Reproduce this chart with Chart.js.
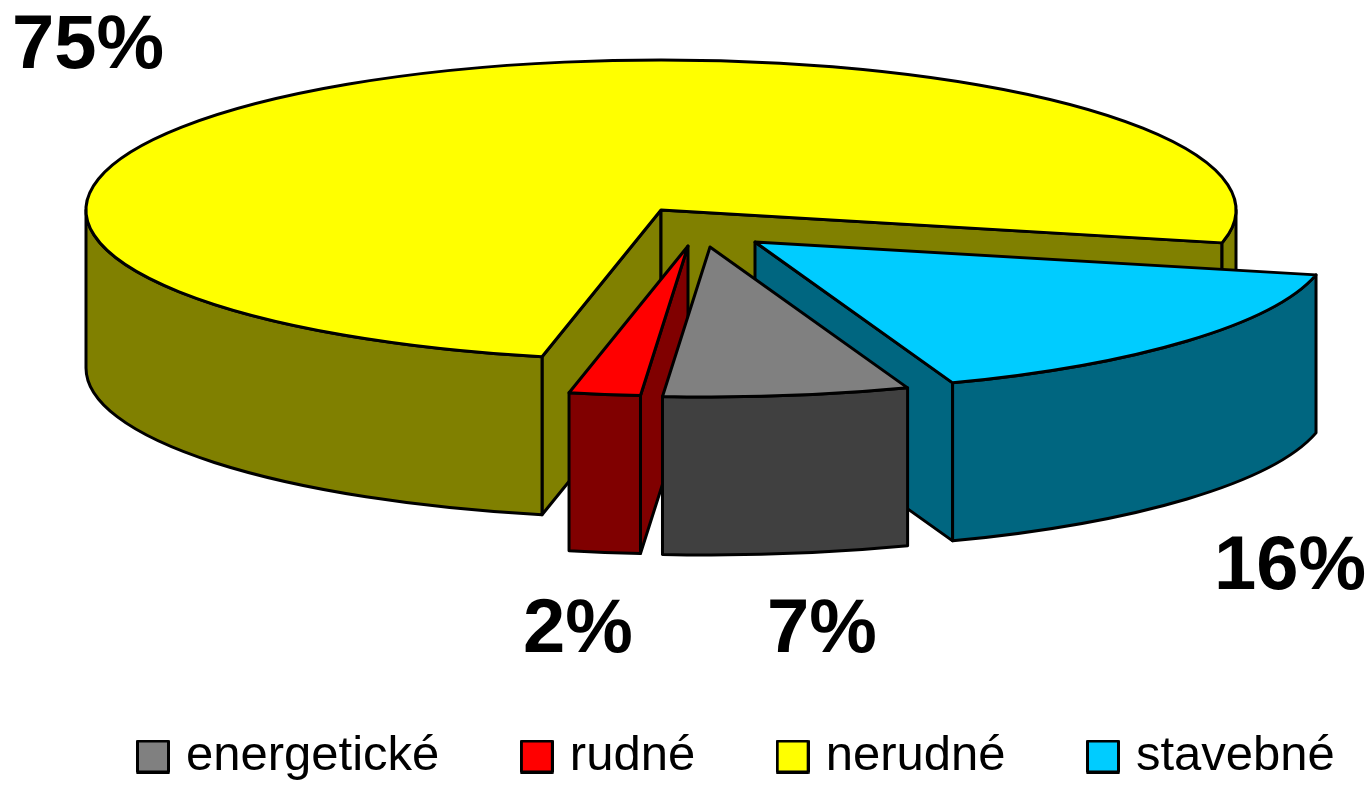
<!DOCTYPE html>
<html>
<head>
<meta charset="utf-8">
<title>chart</title>
<script src="https://cdn.jsdelivr.net/npm/chart.js@4"></script>
<style>
  html, body { margin: 0; padding: 0; background: #fff; }
  canvas { display: block; }
</style>
</head>
<body>
<canvas id="myChart" width="1367" height="785"></canvas>
<script>
var categories = ['energetické', 'rudné', 'nerudné', 'stavebné'];
var values = [6.9, 2, 75.2, 15.9];
var topColors = ['#808080', '#ff0000', '#ffff00', '#00ccff'];
var sideColors = ['#404040', '#800000', '#808000', '#006680'];

// tilted view of the pie, angles come from the arcs chart.js lays out
var view = { cx: 661, cy: 210, rx: 575, ry: 150, depth: 158 };
var shiftX = [49, 27, 0, 94];
var shiftY = [37, 36, 0, 32];
var drawOrder = [2, 3, 1, 0];
var labelX = [767, 523, 12, 1214];
var labelY = [652, 652, 68, 589];

function drawSlice(ctx, arc, i) {
  var cx = view.cx + shiftX[i], cy = view.cy + shiftY[i];
  var rx = view.rx, ry = view.ry, d = view.depth;
  var a = arc.startAngle, b = arc.endAngle;
  ctx.strokeStyle = '#000';
  ctx.lineWidth = 3;
  ctx.lineJoin = 'round';

  function cutWall(t) {
    var x = cx + rx * Math.cos(t), y = cy + ry * Math.sin(t);
    ctx.beginPath();
    ctx.moveTo(cx, cy);
    ctx.lineTo(x, y);
    ctx.lineTo(x, y + d);
    ctx.lineTo(cx, cy + d);
    ctx.closePath();
    ctx.fillStyle = sideColors[i];
    ctx.fill();
    ctx.stroke();
  }
  // only walls turned to the viewer
  if (Math.cos(a) < 0) cutWall(a);
  if (Math.cos(b) > 0) cutWall(b);

  // rim, front half only
  [0, 2 * Math.PI].forEach(function (base) {
    var s = Math.max(a, base), e = Math.min(b, base + Math.PI);
    if (e <= s) return;
    ctx.beginPath();
    ctx.ellipse(cx, cy, rx, ry, 0, s, e);
    ctx.lineTo(cx + rx * Math.cos(e), cy + ry * Math.sin(e) + d);
    ctx.ellipse(cx, cy + d, rx, ry, 0, e, s, true);
    ctx.closePath();
    ctx.fillStyle = sideColors[i];
    ctx.fill();
    ctx.stroke();
  });

  ctx.beginPath();
  ctx.moveTo(cx, cy);
  ctx.ellipse(cx, cy, rx, ry, 0, a, b);
  ctx.closePath();
  ctx.fillStyle = topColors[i];
  ctx.fill();
  ctx.stroke();
}

var pie3d = {
  id: 'pie3d',
  beforeDatasetsDraw: function (chart) {
    var ctx = chart.ctx;
    var arcs = chart.getDatasetMeta(0).data;
    ctx.save();
    drawOrder.forEach(function (i) { drawSlice(ctx, arcs[i], i); });
    ctx.fillStyle = '#000';
    ctx.font = 'bold 76px "Liberation Sans"';
    ctx.textAlign = 'left';
    ctx.textBaseline = 'alphabetic';
    values.forEach(function (v, i) {
      ctx.fillText(Math.round(v) + '%', labelX[i], labelY[i]);
    });
    ctx.restore();
    return false;
  }
};

// legend swatch as a small canvas, so the text can sit closer to it than chart.js would put it
function swatch(color) {
  var c = document.createElement('canvas');
  c.width = 34;
  c.height = 34;
  var g = c.getContext('2d');
  g.fillStyle = color;
  g.strokeStyle = '#000';
  g.lineWidth = 3;
  g.lineJoin = 'round';
  g.fillRect(1.5, 1.5, 31, 31);
  g.strokeRect(1.5, 1.5, 31, 31);
  return c;
}

var myChart = document.getElementById('myChart').getContext('2d');
var chart = new Chart(myChart, {
  type: 'pie',
  plugins: [pie3d],
  data: {
    labels: categories,
    datasets: [{
      data: values,
      backgroundColor: topColors,
      borderColor: '#000',
      borderWidth: 3
    }]
  },
  options: {
    responsive: false,
    animation: false,
    rotation: 159.9,
    layout: { padding: { left: 55.5, right: -120, bottom: -6 } },
    plugins: {
      tooltip: { enabled: false },
      legend: {
        position: 'bottom',
        align: 'start',
        labels: {
          usePointStyle: true,
          pointStyleWidth: 17,
          boxHeight: 34,
          padding: 89,
          color: '#000',
          font: { family: '"Liberation Sans"', size: 49 },
          generateLabels: function (chart) {
            var items = Chart.overrides.pie.plugins.legend.labels.generateLabels(chart);
            items.forEach(function (item, i) {
              item.pointStyle = swatch(topColors[i]);
            });
            return items;
          }
        }
      }
    }
  }
});
</script>
</body>
</html>
